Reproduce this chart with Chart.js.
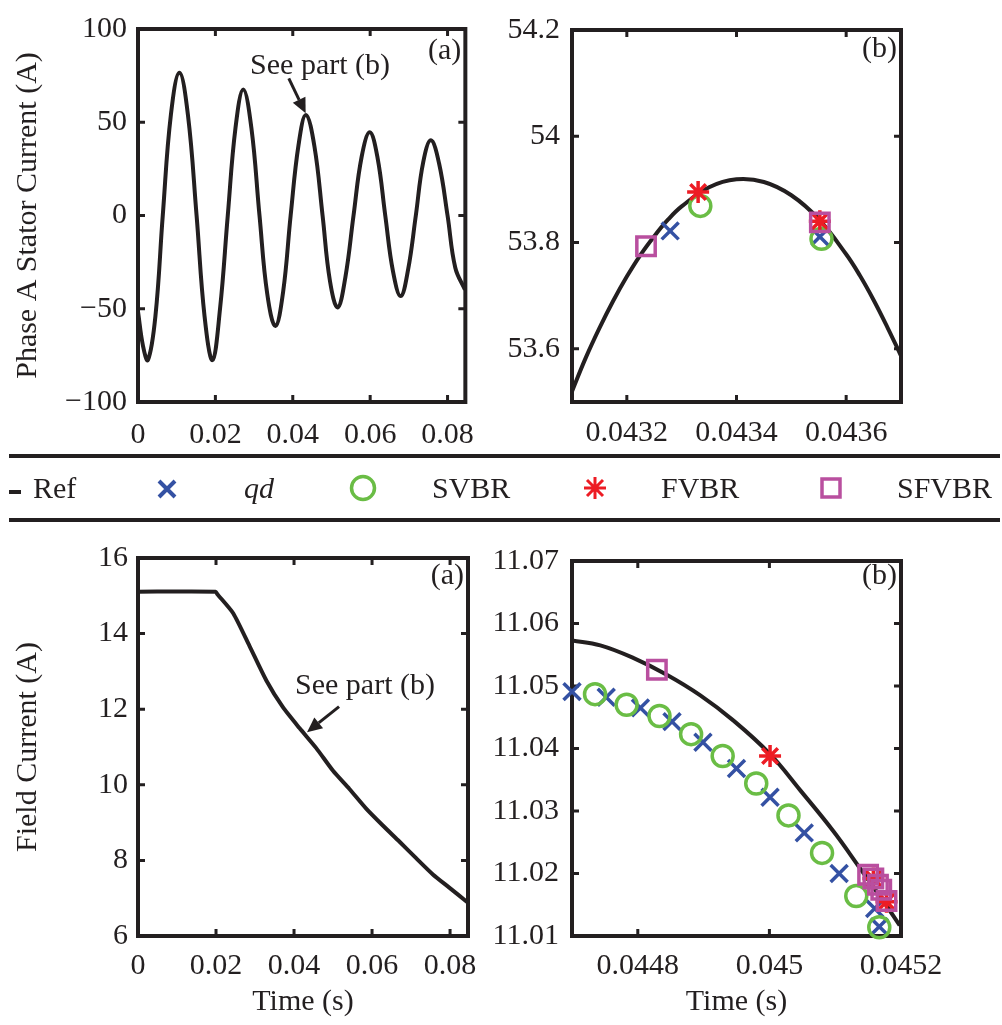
<!DOCTYPE html>
<html lang="en">
<head>
<meta charset="UTF-8">
<title>Stator and field current</title>
<script src="https://cdn.jsdelivr.net/npm/chart.js"></script>
<style>
  body { margin: 0; background: #fff; }
  #wrap { position: relative; width: 1002px; height: 1025px; overflow: hidden; background: #fff; }
  canvas { position: absolute; }
  .lt { position: absolute; top: 473px; font: 30px/30px "Liberation Serif", "Times New Roman", serif; color: #231f20; white-space: nowrap; }
</style>
</head>
<body>
<div id="wrap">
  <canvas id="c1" width="490" height="445" style="left:0;top:0"></canvas>
  <canvas id="c2" width="522" height="445" style="left:480px;top:0"></canvas>
  <canvas id="c3" width="490" height="495" style="left:0;top:530px"></canvas>
  <canvas id="c4" width="522" height="495" style="left:480px;top:530px"></canvas>
  <canvas id="lg" width="1002" height="85" style="left:0;top:445px"></canvas>
  <span class="lt" style="left:33px">Ref</span>
  <span class="lt" style="left:244px;font-style:italic">qd</span>
  <span class="lt" style="left:432px">SVBR</span>
  <span class="lt" style="left:661px">FVBR</span>
  <span class="lt" style="left:897px">SFVBR</span>
</div>
<script>
  const INK = '#231f20';
  const BLUE = '#3451a3';
  const GREEN = '#6abd45';
  const RED = '#ed1c24';
  const MAGENTA = '#b94f9f';

  // (a) phase A stator current, full run
  const statorT = [0, 0.0013, 0.00257, 0.0045, 0.0064, 0.0085, 0.0107, 0.0129, 0.01514, 0.0172, 0.01925, 0.0212,
    0.0232, 0.0252, 0.0272, 0.0293, 0.0314, 0.0334, 0.0355, 0.0375, 0.03945, 0.0415, 0.0434, 0.0456, 0.0477,
    0.0496, 0.0516, 0.0536, 0.0557, 0.0578, 0.0599, 0.0619, 0.0639, 0.0659, 0.0679, 0.0698, 0.0718, 0.0737,
    0.0757, 0.0778, 0.0800, 0.0820, 0.0845];
  const statorI = [-51.5, -70, -77.5, -54, 0, 54, 76.6, 54, 0, -54, -77.5, -50,
    0, 47, 67.6, 47, 0, -42, -59.3, -41, 0, 38, 53.9, 37, 0,
    -35, -49.3, -33, 0, 31.5, 44.6, 31, 0, -30, -43.2, -29, 0, 28.5,
    40.3, 28, 0, -28, -39.8];

  // (b) zoom on the stator current peak
  const refAT = [0.04310, 0.043125, 0.04315, 0.043175, 0.0432, 0.043225, 0.04325, 0.043275, 0.0433, 0.04335,
    0.0434, 0.04345, 0.0435, 0.04355, 0.0436, 0.043625, 0.04365, 0.043675, 0.0437];
  const refAI = [53.52, 53.583, 53.639, 53.69, 53.736, 53.777, 53.812, 53.843, 53.868, 53.904,
    53.919, 53.914, 53.889, 53.844, 53.778, 53.738, 53.692, 53.641, 53.587];
  const qdAT = [0.043279, 0.043552];
  const qdAI = [53.822, 53.811];
  const svbrAT = [0.043334, 0.043555];
  const svbrAI = [53.869, 53.807];
  const fvbrAT = [0.04333, 0.043552];
  const fvbrAI = [53.895, 53.840];
  const sfvbrAT = [0.043235, 0.043552];
  const sfvbrAI = [53.793, 53.838];

  // (a) field current, full run
  const fieldT = [0, 0.0199, 0.0203, 0.0244, 0.0286, 0.0329, 0.0371, 0.0414, 0.0457, 0.05, 0.0542, 0.0585,
    0.0627, 0.067, 0.0713, 0.0756, 0.0798, 0.0846];
  const fieldI = [15.11, 15.11, 15.05, 14.54, 13.67, 12.76, 12.06, 11.5, 10.97, 10.37, 9.89, 9.37,
    8.93, 8.5, 8.06, 7.63, 7.28, 6.88];

  // (b) zoom on the field current
  const refBT = [0.0447, 0.044743, 0.044793, 0.044844, 0.044895, 0.044945, 0.045001, 0.045047, 0.045097,
    0.045138, 0.045173, 0.045198];
  const refBI = [11.0573, 11.0565, 11.0545, 11.0518, 11.0485, 11.0445, 11.0391, 11.0333, 11.0268,
    11.0208, 11.0156, 11.0117];
  const qdBT = [0.0447, 0.044752, 0.044804, 0.044852, 0.044899, 0.04495, 0.045001, 0.045053, 0.045106, 0.04516, 0.045167];
  const qdBI = [11.0491, 11.0482, 11.0465, 11.0443, 11.0410, 11.0368, 11.0322, 11.0265, 11.0200, 11.0144, 11.0115];
  const svbrBT = [0.044735, 0.044783, 0.044833, 0.044881, 0.044929, 0.04498, 0.045029, 0.04508, 0.045132, 0.045167];
  const svbrBI = [11.0487, 11.0470, 11.0452, 11.0423, 11.0388, 11.0344, 11.0293, 11.0233, 11.0164, 11.0114];
  const fvbrBT = [0.045001, 0.045158, 0.045178];
  const fvbrBI = [11.0388, 11.0192, 11.0155];
  const sfvbrBT = [0.044829, 0.04515, 0.045158, 0.045165, 0.04517, 0.045178];
  const sfvbrBI = [11.0526, 11.0198, 11.0192, 11.0182, 11.0174, 11.0156];

  // tick values and labels
  const fullTicks = [0, 0.02, 0.04, 0.06, 0.08];
  const fullLabels = ['0', '0.02', '0.04', '0.06', '0.08'];
  const statorTicks = [-100, -50, 0, 50, 100];
  const statorLabels = ['\u2212100', '\u221250', '0', '50', '100'];
  const zoomATicks = [0.0432, 0.0434, 0.0436];
  const zoomALabels = ['0.0432', '0.0434', '0.0436'];
  const peakTicks = [53.6, 53.8, 54, 54.2];
  const peakLabels = ['53.6', '53.8', '54', '54.2'];
  const fieldTicks = [6, 8, 10, 12, 14, 16];
  const fieldLabels = ['6', '8', '10', '12', '14', '16'];
  const zoomBTicks = [0.0448, 0.045, 0.0452];
  const zoomBLabels = ['0.0448', '0.045', '0.0452'];
  const fzTicks = [11.01, 11.02, 11.03, 11.04, 11.05, 11.06, 11.07];
  const fzLabels = ['11.01', '11.02', '11.03', '11.04', '11.05', '11.06', '11.07'];

  const pts = (xs, ys) => xs.map((x, i) => ({ x: x, y: ys[i] }));

  Chart.defaults.font.family = '"Liberation Serif", "Times New Roman", serif';
  Chart.defaults.font.size = 30;
  Chart.defaults.color = INK;

  // box with inward ticks, drawn under the markers
  const frame = {
    id: 'frame',
    beforeDatasetsDraw(chart) {
      const { ctx, chartArea: a, scales: { x, y } } = chart;
      ctx.save();
      ctx.strokeStyle = INK;
      ctx.lineWidth = 4;
      ctx.strokeRect(a.left, a.top, a.right - a.left, a.bottom - a.top);
      ctx.lineWidth = 3;
      ctx.beginPath();
      x.ticks.forEach(t => {
        const p = x.getPixelForValue(t.value);
        ctx.moveTo(p, a.bottom); ctx.lineTo(p, a.bottom - 7);
        ctx.moveTo(p, a.top); ctx.lineTo(p, a.top + 7);
      });
      y.ticks.forEach(t => {
        const p = y.getPixelForValue(t.value);
        ctx.moveTo(a.left, p); ctx.lineTo(a.left + 7, p);
        ctx.moveTo(a.right, p); ctx.lineTo(a.right - 7, p);
      });
      ctx.stroke();
      ctx.restore();
    }
  };

  // panel tags, captions and arrows
  const notes = {
    id: 'notes',
    afterDraw(chart, args, opts) {
      const { ctx, chartArea: a, scales: { x, y } } = chart;
      ctx.save();
      ctx.fillStyle = INK;
      ctx.strokeStyle = INK;
      ctx.font = '30px "Liberation Serif", "Times New Roman", serif';
      ctx.textBaseline = 'middle';
      (opts.items || []).forEach(it => {
        if (it.t === 'tag') {
          ctx.textAlign = 'right';
          ctx.fillText(it.s, a.right - 4, a.top + it.dy);
        } else if (it.t === 'text') {
          ctx.textAlign = 'left';
          ctx.fillText(it.s, x.getPixelForValue(it.x), y.getPixelForValue(it.y));
        } else if (it.t === 'arrow') {
          const x1 = x.getPixelForValue(it.x1), y1 = y.getPixelForValue(it.y1);
          const x2 = x.getPixelForValue(it.x2), y2 = y.getPixelForValue(it.y2);
          const ang = Math.atan2(y2 - y1, x2 - x1);
          const hl = 15, hw = 7;
          const bx = x2 - hl * Math.cos(ang), by = y2 - hl * Math.sin(ang);
          ctx.lineWidth = 3;
          ctx.beginPath(); ctx.moveTo(x1, y1); ctx.lineTo(bx, by); ctx.stroke();
          ctx.beginPath();
          ctx.moveTo(x2, y2);
          ctx.lineTo(bx + hw * Math.sin(ang), by - hw * Math.cos(ang));
          ctx.lineTo(bx - hw * Math.sin(ang), by + hw * Math.cos(ang));
          ctx.closePath(); ctx.fill();
        }
      });
      ctx.restore();
    }
  };

  function refLine(data, tension) {
    return { data: data, borderColor: INK, borderWidth: 4, pointRadius: 0, order: 5,
      tension: tension, borderJoinStyle: 'round' };
  }
  function markers(data, style, color, radius, order) {
    return { data: data, showLine: false, pointStyle: style, pointRadius: radius,
      pointBorderColor: color, pointBackgroundColor: 'rgba(0,0,0,0)', pointBorderWidth: 3.5,
      borderColor: color, order: order, clip: false };
  }

  function panel(id, o) {
    return new Chart(document.getElementById(id), {
      type: 'line',
      data: { datasets: o.datasets },
      plugins: [frame, notes],
      options: {
        responsive: false,
        animation: false,
        devicePixelRatio: 1,
        layout: { padding: o.pad },
        plugins: { legend: { display: false }, tooltip: { enabled: false }, notes: { items: o.notes } },
        scales: {
          x: {
            type: 'linear', min: o.xMin, max: o.xMax,
            grid: { display: false, drawTicks: false }, border: { display: false },
            afterBuildTicks: s => { s.ticks = o.xTicks.map(v => ({ value: v })); },
            afterFit: s => { s.height = o.xH; },
            ticks: { padding: o.xPad, autoSkip: false, maxRotation: 0, callback: (v, i) => o.xLabels[i] },
            title: { display: !!o.xTitle, text: o.xTitle, padding: { top: 0, bottom: 5 } }
          },
          y: {
            type: 'linear', min: o.yMin, max: o.yMax,
            grid: { display: false, drawTicks: false }, border: { display: false },
            afterBuildTicks: s => { s.ticks = o.yTicks.map(v => ({ value: v })); },
            afterFit: s => { s.width = o.yW; },
            ticks: { padding: o.yPad, autoSkip: false, callback: (v, i) => o.yLabels[i] },
            title: { display: !!o.yTitle, text: o.yTitle, padding: { top: 10, bottom: 0 } }
          }
        }
      }
    });
  }

  panel('c1', {
    datasets: [refLine(pts(statorT, statorI), 0.4)],
    pad: { top: 17, right: 22, left: 0, bottom: 0 },
    xMin: 0, xMax: 0.0846, xTicks: fullTicks, xLabels: fullLabels, xH: 43, xPad: 15,
    yMin: -100, yMax: 100, yTicks: statorTicks, yLabels: statorLabels, yW: 138, yPad: 11,
    yTitle: 'Phase A Stator Current (A)',
    notes: [
      { t: 'tag', s: '(a)', dy: 22 },
      { t: 'text', s: 'See part (b)', x: 0.02897, y: 80.3 },
      { t: 'arrow', x1: 0.03897, y1: 73.5, x2: 0.04333, y2: 54.8 }
    ]
  });

  panel('c2', {
    datasets: [
      refLine(pts(refAT, refAI), 0.4),
      markers(pts(qdAT, qdAI), 'crossRot', BLUE, 12, 4),
      markers(pts(svbrAT, svbrAI), 'circle', GREEN, 10.5, 3),
      markers(pts(fvbrAT, fvbrAI), 'star', RED, 11, 2),
      markers(pts(sfvbrAT, sfvbrAI), 'rect', MAGENTA, 13, 1)
    ],
    pad: { top: 19, right: 101, left: 0, bottom: 0 },
    xMin: 0.0431, xMax: 0.0437, xTicks: zoomATicks, xLabels: zoomALabels, xH: 43, xPad: 13,
    yMin: 53.5, yMax: 54.2, yTicks: peakTicks, yLabels: peakLabels, yW: 92, yPad: 12,
    notes: [{ t: 'tag', s: '(b)', dy: 19.5 }]
  });

  panel('c3', {
    datasets: [refLine(pts(fieldT, fieldI), 0.2)],
    pad: { top: 22, right: 22, left: 0, bottom: 0 },
    xMin: 0, xMax: 0.0846, xTicks: fullTicks, xLabels: fullLabels, xH: 89, xPad: 12, xTitle: 'Time (s)',
    yMin: 6, yMax: 16, yTicks: fieldTicks, yLabels: fieldLabels, yW: 138, yPad: 10,
    yTitle: 'Field Current (A)',
    notes: [
      { t: 'tag', s: '(a)', dy: 18 },
      { t: 'text', s: 'See part (b)', x: 0.04026, y: 12.61 },
      { t: 'arrow', x1: 0.05154, y1: 12.07, x2: 0.04333, y2: 11.39 }
    ]
  });

  panel('c4', {
    datasets: [
      refLine(pts(refBT, refBI), 0.4),
      markers(pts(qdBT, qdBI), 'crossRot', BLUE, 12, 4),
      markers(pts(svbrBT, svbrBI), 'circle', GREEN, 10.5, 3),
      markers(pts(fvbrBT, fvbrBI), 'star', RED, 11, 2),
      markers(pts(sfvbrBT, sfvbrBI), 'rect', MAGENTA, 13, 1)
    ],
    pad: { top: 22, right: 101, left: 0, bottom: 0 },
    xMin: 0.0447, xMax: 0.0452, xTicks: zoomBTicks, xLabels: zoomBLabels, xH: 89, xPad: 12, xTitle: 'Time (s)',
    yMin: 11.01, yMax: 11.07, yTicks: fzTicks, yLabels: fzLabels, yW: 92, yPad: 13,
    notes: [{ t: 'tag', s: '(b)', dy: 15 }]
  });

  // legend strip between the two rows
  const lg = document.getElementById('lg').getContext('2d');
  lg.fillStyle = INK;
  lg.fillRect(9, 9, 991, 4);
  lg.fillRect(9, 73, 991, 4);
  lg.fillRect(9, 45, 12, 4);
  lg.lineWidth = 4;
  lg.strokeStyle = BLUE;
  lg.beginPath();
  lg.moveTo(159, 36); lg.lineTo(175, 52);
  lg.moveTo(175, 36); lg.lineTo(159, 52);
  lg.stroke();
  lg.lineWidth = 3.5;
  lg.strokeStyle = GREEN;
  lg.beginPath(); lg.arc(363, 43, 11.5, 0, Math.PI * 2); lg.stroke();
  lg.lineWidth = 3;
  lg.strokeStyle = RED;
  lg.beginPath();
  lg.moveTo(595, 32); lg.lineTo(595, 54);
  lg.moveTo(584, 43); lg.lineTo(606, 43);
  lg.moveTo(587, 35); lg.lineTo(603, 51);
  lg.moveTo(603, 35); lg.lineTo(587, 51);
  lg.stroke();
  lg.lineWidth = 3.5;
  lg.strokeStyle = MAGENTA;
  lg.strokeRect(822, 34, 18, 18);
</script>
</body>
</html>
